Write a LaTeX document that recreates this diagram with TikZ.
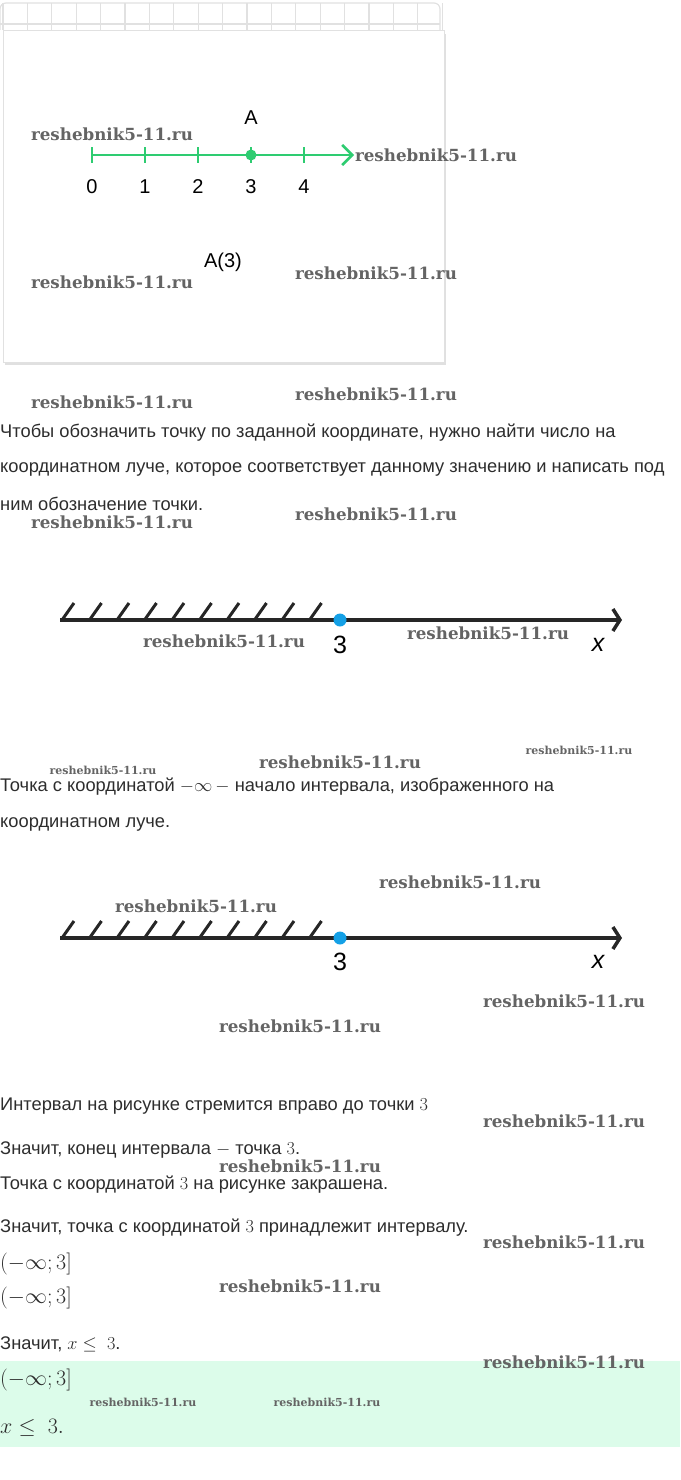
\documentclass[tikz,border=0pt]{standalone}
\usepackage{fix-cm}
\usepackage{fontspec}
\setmainfont{Liberation Sans}
\newfontfamily\wmfont{DejaVu Serif}
\usetikzlibrary{arrows.meta,positioning}
\definecolor{rayGreen}{RGB}{46,204,113}
\definecolor{dotBlue}{RGB}{20,160,230}
\definecolor{textGray}{RGB}{45,45,45}
\definecolor{answerBg}{RGB}{220,252,234}
\definecolor{gridGray}{RGB}{225,225,225}
\definecolor{wmGray}{RGB}{100,100,100}
\newcommand{\wm}{reshebnik5-11.ru}

\begin{document}
\begin{tikzpicture}[x=1pt,y=-1pt,
	txt/.style={anchor=west,inner sep=0pt,text=textGray,font=\fontsize{18.3}{20}\selectfont},
	mth/.style={anchor=west,inner sep=0pt,text=textGray,font=\fontsize{22}{24}\selectfont},
	wmark/.style={text=wmGray,inner sep=0pt,font=\wmfont\bfseries\fontsize{16.7}{18}\selectfont},
	wmsmall/.style={text=wmGray,inner sep=0pt,font=\wmfont\bfseries\fontsize{11}{12}\selectfont},
	lbl/.style={inner sep=0pt,font=\fontsize{20}{22}\selectfont},
	axlbl/.style={inner sep=0pt,font=\fontsize{25}{27}\selectfont},
	greenray/.style={rayGreen,line width=2.6pt,-{Straight Barb[length=10pt,width=20pt,line width=2.6pt]}},
	blackray/.style={black!85,line width=4pt,-{Straight Barb[length=7pt,width=22pt,line width=3.5pt]}}]
\useasboundingbox (0,0) rectangle (680,1480);

% card with grid strip
\foreach \k in {0,...,18}
	\draw[gridGray,line width=1.2pt] (3+24.4*\k,3) -- (3+24.4*\k,30);
\draw[gridGray,line width=1.2pt,rounded corners=6pt] (0,30) -- (0,3) -- (440,3) -- (440,30);
\draw[gridGray,line width=1.2pt] (0,24) -- (440,24);
\fill[black!12] (5,34) rectangle (446,365);
\draw[gridGray,fill=white] (3,30) rectangle (444,362);

\coordinate (o1) at (92,155);
\coordinate (e1) at (354,155);
\draw[greenray] (o1) -- (e1);
\foreach \n in {0,...,4}{
	\draw[rayGreen,line width=2pt] (92+53*\n,147) -- (92+53*\n,163);
	\node[lbl] (n\n) at (92+53*\n,187) {\n};
}
\fill[rayGreen] (251,155) circle (5.5);
\node[lbl] (A) at (251,118) {A};
\node[lbl] (A3) at (223,262) {A(3)};

\node[txt] (t1) at (0,433) {Чтобы обозначить точку по заданной координате, нужно найти число на};
\node[txt] (t2) at (0,469) {координатном луче, которое соответствует данному значению и написать под};
\node[txt] (t3) at (0,504) {ним обозначение точки.};

% first interval
\coordinate (o2) at (60,620);
\coordinate (e2) at (622,620);
\draw[blackray] (o2) -- (e2);
\foreach \h in {0,...,9}
	\draw[black!85,line width=3pt] (62+27.5*\h,620) -- ++(12,-17);
\fill[dotBlue] (340,620) circle (6.5);
\node[axlbl] (p2) at (340,645) {3};
\node[axlbl] (x2) at (598,645) {\itshape x};

\node[txt] (t4) at (0,787) {Точка с координатой $-\infty\,-$ начало интервала, изображенного на};
\node[txt] (t5) at (0,824) {координатном луче.};

% second interval
\coordinate (o3) at (60,938);
\coordinate (e3) at (622,938);
\draw[blackray] (o3) -- (e3);
\foreach \h in {0,...,9}
	\draw[black!85,line width=3pt] (62+27.5*\h,938) -- ++(12,-17);
\fill[dotBlue] (340,938) circle (6.5);
\node[axlbl] (p3) at (340,962) {3};
\node[axlbl] (x3) at (598,962) {\itshape x};

\node[txt] (t6) at (0,1106) {Интервал на рисунке стремится вправо до точки $3$};
\node[txt] (t7) at (0,1150) {Значит, конец интервала $-$ точка $3$.};
\node[txt] (t8) at (0,1185) {Точка с координатой $3$ на рисунке закрашена.};
\node[txt] (t9) at (0,1228) {Значит, точка с координатой $3$ принадлежит интервалу.};
\node[mth] (m1) at (0,1264) {$(-\infty;3]$};
\node[mth] (m2) at (0,1298) {$(-\infty;3]$};
\node[txt] (t10) at (0,1344) {Значит, $x\leq\ 3$.};

\fill[answerBg] (0,1361) rectangle (680,1447);
\node[mth] (m3) at (0,1380) {$(-\infty;3]$};
\node[mth] (m4) at (0,1428) {$x\leq\ 3.$};

% watermarks
\foreach \x/\y [count=\i] in {112/134,436/155,112/282,376/273,112/402,376/394,112/522,376/514,
	224/641,488/633,340/762,460/882,196/906,564/1001,300/1026,564/1121,300/1166,564/1242,
	300/1286,564/1362}
	\node[wmark] (w\i) at (\x,\y) {\wm};
\foreach \x/\y [count=\i] in {579/750,103/770,143/1402,327/1402}
	\node[wmsmall] (ws\i) at (\x,\y) {\wm};
\end{tikzpicture}
\end{document}
